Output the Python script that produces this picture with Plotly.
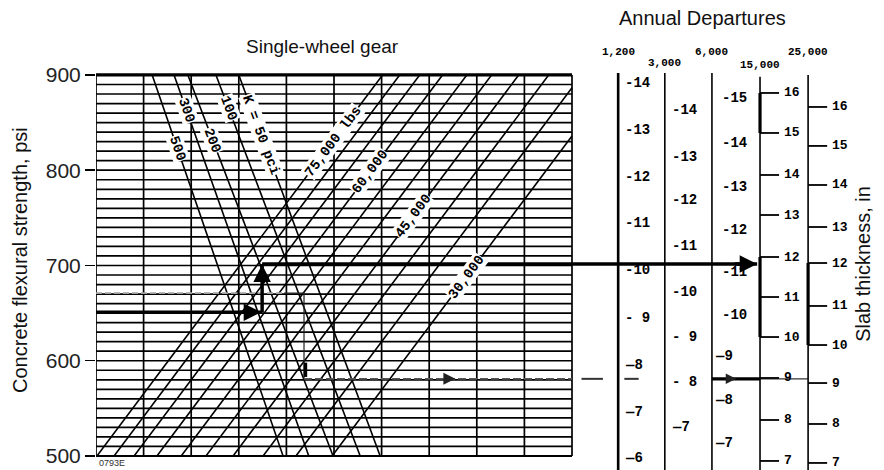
import math
import plotly.graph_objects as go

# ---------------- data ----------------
strength_ticks = [500, 600, 700, 800, 900]
grid_psi = list(range(500, 901, 10))
grid_cols = list(range(0, 11))

k_values = [500, 300, 200, 100, 50]
k_x_at_900 = [1.18, 1.64, 1.93, 2.52, 3.00]
k_x_at_500 = [3.93, 4.47, 4.98, 5.55, 5.97]
k_label_psi = [823, 863, 831, 865, 837]
k_label_text = ["500", "300", "200", "100", "K = 50 pci"]

loads = [75000, 70000, 65000, 60000, 55000, 50000, 45000, 40000, 35000, 30000]
load_x_at_500 = [0.02, 0.38, 0.80, 1.28, 1.79, 2.31, 2.88, 3.51, 4.20, 4.96]
load_slope = 0.0150  # grid units per psi
labeled_loads = [75000, 60000, 45000, 30000]
load_label_psi = [830, 798, 752, 688]
load_label_text = ["75,000 lbs", "60,000", "45,000", "30,000"]

departures = ["1,200", "3,000", "6,000", "15,000", "25,000"]
scale_x = [10.97, 11.95, 12.94, 13.95, 14.96]
header_psi = [924, 912.6, 924, 910.5, 924]
scale_top_psi = [902, 902, 902, 898, 900]
scale_thickness = [
    [14, 13, 12, 11, 10, 9, 8, 7, 6],
    [14, 13, 12, 11, 10, 9, 8, 7],
    [15, 14, 13, 12, 11, 10, 9, 8, 7],
    [16, 15, 14, 13, 12, 11, 10, 9, 8, 7],
    [16, 15, 14, 13, 12, 11, 10, 9, 8, 7],
]
scale_tick_psi = [
    [891.6, 842.3, 792.9, 744.6, 695.3, 644.9, 595.5, 546.2, 497.9],
    [863.3, 813.9, 768.8, 720.5, 672.2, 624.9, 577.7, 530.4],
    [875.9, 828.6, 782.4, 737.3, 693.2, 648.0, 605.0, 558.8, 513.6],
    [881.1, 839.1, 795.0, 753.0, 708.9, 666.9, 624.9, 581.9, 537.8, 494.8],
    [866.4, 825.5, 784.5, 740.4, 702.6, 657.5, 616.5, 576.6, 533.6, 492.7],
]
# thickness ranges drawn heavier on the 15,000 and 25,000 scales
heavy_ranges = {3: [(15, 16), (10, 12)], 4: [(10, 12)]}

# worked examples
ex1_x = [0, 3.49, 3.49, 13.89]
ex1_psi = [651, 651, 701.5, 701.5]
ex2_x = [0, 3.95, 4.37, 4.37, 14.96]
ex2_psi = [671, 671, 671, 581, 581]

# ---------------- figure ----------------
SANS = "Liberation Sans, Arial, sans-serif"
MONO = "Liberation Mono, Courier New, monospace"
PX_PER_UNIT = 47.6
X_MAX = 788 / PX_PER_UNIT
Y_RANGE = [485.3, 978.7]

fig = go.Figure()

def add_line(xs, ys, width=1.7, color="black", dash="solid"):
    fig.add_trace(go.Scatter(x=xs, y=ys, mode="lines", hoverinfo="skip",
                             line=dict(color=color, width=width, dash=dash),
                             showlegend=False))

# horizontal grid
hx, hy = [], []
for p in grid_psi:
    hx += [0, 10, None]
    hy += [p, p, None]
add_line(hx, hy, 1.7)
# vertical grid
vx, vy = [], []
for c in grid_cols:
    vx += [c, c, None]
    vy += [500, 900, None]
add_line(vx, vy, 1.7)
add_line([0, 10], [900, 900], 3.2)
add_line([0, 10], [500, 500], 2.2)

# subgrade k lines
for k, xt, xb in zip(k_values, k_x_at_900, k_x_at_500):
    add_line([xt, xb], [900, 500], 1.6)

# load lines
for ld, x0 in zip(loads, load_x_at_500):
    x1 = x0 + load_slope * 400
    if x1 <= 10:
        add_line([x0, x1], [500, 900], 1.6)
    else:
        add_line([x0, 10], [500, 500 + (10 - x0) / load_slope], 1.6)

ann = []
# k labels
for lab, xt, xb, p in zip(k_label_text, k_x_at_900, k_x_at_500, k_label_psi):
    x = xt + (900 - p) / 400 * (xb - xt)
    dxp = (xb - xt) * PX_PER_UNIT
    dyp = 400 * 0.9525
    ang = math.degrees(math.atan2(dyp, dxp))
    ann.append(dict(x=x, y=p, text="<b>" + lab + "</b>", showarrow=False,
                    textangle=ang, bgcolor="white", borderpad=0,
                    font=dict(family=MONO, size=14, color="black")))
# load labels
ang_load = math.degrees(math.atan2(-0.9525, load_slope * PX_PER_UNIT))
for ld, p, lab in zip(labeled_loads, load_label_psi, load_label_text):
    x0 = load_x_at_500[loads.index(ld)]
    x = x0 + load_slope * (p - 500)
    ann.append(dict(x=x, y=p, text="<b>" + lab + "</b>", showarrow=False,
                    textangle=ang_load, bgcolor="white", borderpad=0,
                    font=dict(family=MONO, size=14, color="black")))

# example 2 (grey, dashed)
add_line(ex2_x[:2], ex2_psi[:2], 1.6, "#a0a0a0", "6px,3px")
add_line(ex2_x[1:4], ex2_psi[1:4], 1.2, "#222")
add_line([ex2_x[3], 10], [ex2_psi[3]] * 2, 1.6, "#555", "8px,3px")
add_line([10.2, 10.65], [ex2_psi[3]] * 2, 2.0, "#333")
add_line([11.1, 11.4], [ex2_psi[3]] * 2, 2.0, "#333")
add_line([scale_x[2], scale_x[3]], [ex2_psi[3]] * 2, 3.2, "black")
add_line([scale_x[3], scale_x[4]], [ex2_psi[3]] * 2, 1.2, "#333")
add_line([ex2_x[3] + 0.03] * 2, [598, 583], 3.5, "black")
ann.append(dict(x=7.55, y=ex2_psi[3], ax=7.3, ay=ex2_psi[3], axref="x", ayref="y",
                text="", showarrow=True, arrowhead=2, arrowsize=0.8, arrowwidth=3,
                arrowcolor="#222"))
ann.append(dict(x=13.45, y=ex2_psi[3], ax=13.2, ay=ex2_psi[3], axref="x", ayref="y",
                text="", showarrow=True, arrowhead=2, arrowsize=0.7, arrowwidth=3,
                arrowcolor="#222"))

# scales
for i, (sx, top) in enumerate(zip(scale_x, scale_top_psi)):
    add_line([sx, sx], [top, Y_RANGE[0]], 2.6 if i == 0 else 1.6)
    ann.append(dict(x=sx, y=header_psi[i], text="<b>" + departures[i] + "</b>",
                    showarrow=False, font=dict(family=MONO, size=11, color="black")))
for i, rng in heavy_ranges.items():
    th, tp = scale_thickness[i], scale_tick_psi[i]
    for a, b in rng:
        add_line([scale_x[i]] * 2, [tp[th.index(a)], tp[th.index(b)]], 3.2)

for i in range(3):
    for t, p in zip(scale_thickness[i], scale_tick_psi[i]):
        if (i == 0 and t <= 8) or (i == 1 and t <= 7) or (i == 2 and t <= 9):
            txt = "—" + str(t)
            x = scale_x[i] + (0.02 if i == 2 else 0.1)
        else:
            txt = "-" + str(t) if t >= 10 else "- " + str(t)
            x = scale_x[i] + (0.16 if i == 2 else 0.1)
        ann.append(dict(x=x, y=p, text="<b>" + txt + "</b>", showarrow=False,
                        xanchor="left", font=dict(family=MONO, size=14, color="black")))
for i in (3, 4):
    tx, ty = [], []
    for t, p in zip(scale_thickness[i], scale_tick_psi[i]):
        tx += [scale_x[i], scale_x[i] + 0.4, None]
        ty += [p, p, None]
        ann.append(dict(x=scale_x[i] + 0.47, y=p, text="<b>" + str(t) + "</b>",
                        showarrow=False, xanchor="left",
                        font=dict(family=MONO, size=13, color="black")))
    add_line(tx, ty, 1.8)

# example 1 (main arrows)
add_line(ex1_x[:2], ex1_psi[:2], 3.5)
add_line(ex1_x[1:3], ex1_psi[1:3], 3.5)
add_line(ex1_x[2:], ex1_psi[2:], 3.5)
ann.append(dict(x=ex1_x[1] - 0.02, y=ex1_psi[1], ax=ex1_x[1] - 0.5, ay=ex1_psi[1],
                axref="x", ayref="y", text="", showarrow=True, arrowhead=2,
                arrowsize=1.0, arrowwidth=3.5, arrowcolor="black"))
ann.append(dict(x=ex1_x[2], y=ex1_psi[2] - 0.5, ax=ex1_x[2], ay=ex1_psi[2] - 20,
                axref="x", ayref="y", text="", showarrow=True, arrowhead=2,
                arrowsize=1.0, arrowwidth=3.5, arrowcolor="black"))
ann.append(dict(x=ex1_x[3], y=ex1_psi[3], ax=ex1_x[3] - 0.5, ay=ex1_psi[3],
                axref="x", ayref="y", text="", showarrow=True, arrowhead=2,
                arrowsize=1.0, arrowwidth=3.5, arrowcolor="black"))

# titles
ann.append(dict(x=4.75, y=929.4, text="Single-wheel gear", showarrow=False,
                font=dict(family=SANS, size=19, color="#111")))
ann.append(dict(x=12.75, y=959.8, text="Annual Departures", showarrow=False,
                font=dict(family=SANS, size=20, color="#111")))
ann.append(dict(x=16.11, y=701.6, text="Slab thickness, in", showarrow=False,
                textangle=-90, font=dict(family=SANS, size=20, color="#111")))
ann.append(dict(xref="paper", x=(20 - 96) / 788, xanchor="center", y=705.8,
                text="Concrete flexural strength, psi", showarrow=False,
                textangle=-90, font=dict(family=SANS, size=20, color="#111")))
ann.append(dict(x=0.02, y=492.6, text="0793E", showarrow=False, xanchor="left",
                font=dict(family=SANS, size=9, color="#333")))

fig.update_layout(
    width=884, height=470,
    margin=dict(l=96, r=0, t=0, b=0),
    plot_bgcolor="white", paper_bgcolor="white",
    annotations=ann,
    hovermode=False,
    xaxis=dict(range=[0, X_MAX], visible=False, fixedrange=True),
    yaxis=dict(range=Y_RANGE, tickvals=strength_ticks, ticks="outside",
               ticklen=10, tickwidth=1.5, tickcolor="black", showgrid=False,
               zeroline=False, showline=False, automargin=False, fixedrange=True,
               tickfont=dict(family=SANS, size=21, color="#222")),
)
fig.write_html("out.html", config={"displayModeBar": False, "staticPlot": True},
               post_script="document.body.style.margin='0';document.body.style.overflow='hidden';")
